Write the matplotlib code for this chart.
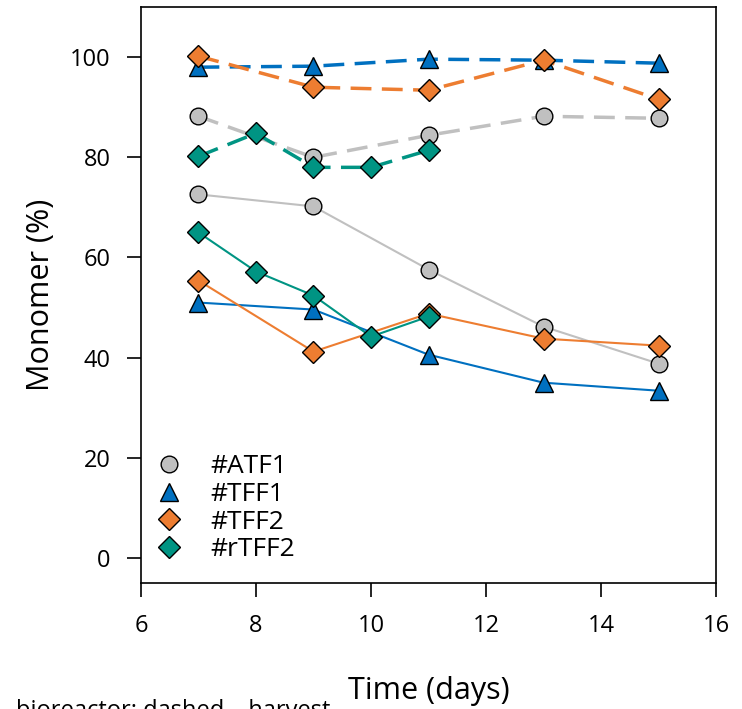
import matplotlib
matplotlib.use("Agg")
import matplotlib.pyplot as plt
from matplotlib.lines import Line2D

plt.rcParams['font.family'] = ['Open Sans', 'DejaVu Sans']

names = ['#ATF1', '#TFF1', '#TFF2', '#rTFF2']
colors = ['#C0C0C0', '#0070C0', '#ED7D31', '#009483']
markers = ['o', '^', 'D', 'D']
msizes = [12, 13, 11, 11]

# bioreactor (dashed)
bio_days = [
    [7, 9, 11, 13, 15],
    [7, 9, 11, 13, 15],
    [7, 9, 11, 13, 15],
    [7, 8, 9, 10, 11],
]
bio_vals = [
    [88.2, 80.0, 84.4, 88.2, 87.8],
    [98.0, 98.2, 99.6, 99.4, 98.8],
    [100.2, 94.0, 93.4, 99.4, 91.6],
    [80.2, 84.8, 78.0, 78.0, 81.4],
]

# harvest (solid)
harv_days = [
    [7, 9, 11, 13, 15],
    [7, 9, 11, 13, 15],
    [7, 9, 11, 13, 15],
    [7, 8, 9, 10, 11],
]
harv_vals = [
    [72.6, 70.2, 57.6, 46.2, 38.8],
    [51.0, 49.6, 40.6, 35.0, 33.4],
    [55.4, 41.2, 48.8, 43.8, 42.4],
    [65.0, 57.2, 52.4, 44.2, 48.2],
]

fig = plt.figure(figsize=(7.42, 7.09), dpi=100)
ax = fig.add_axes([0.190, 0.1777, 0.775, 0.8123])

for i in range(4):
    ax.plot(harv_days[i], harv_vals[i], '-', color=colors[i], lw=1.5,
            marker=markers[i], ms=msizes[i], mfc=colors[i], mec='black', mew=1.0,
            zorder=3)
for i in range(4):
    ax.plot(bio_days[i], bio_vals[i], color=colors[i], lw=2.5, dashes=(6, 3),
            marker=markers[i], ms=msizes[i], mfc=colors[i], mec='black', mew=1.0,
            zorder=3)

ax.set_xlim(6, 16)
ax.set_ylim(-5, 110)
ax.set_xticks([6, 8, 10, 12, 14, 16])
ax.set_yticks([0, 20, 40, 60, 80, 100])
ax.tick_params(direction='out', length=10, width=1.2, labelsize=17, pad=12)
for s in ax.spines.values():
    s.set_linewidth(1.2)

ax.set_xlabel('Time (days)', fontsize=22, labelpad=28)
ax.set_ylabel('Monomer (%)', fontsize=22, labelpad=10)

handles = [Line2D([], [], ls='none', marker=markers[i], ms=msizes[i],
                  mfc=colors[i], mec='black', mew=1.0) for i in range(4)]
ax.legend(handles, names, loc='lower left', bbox_to_anchor=(-0.038, -0.005),
          frameon=False, fontsize=19, handletextpad=0.55, labelspacing=0.1,
          borderaxespad=0.5)

fig.text(16 / 742, (709 - 699) / 709, 'bioreactor: dashed \u2013 harvest', fontsize=17,
         ha='left', va='top')

fig.savefig('out.png', dpi=100)
